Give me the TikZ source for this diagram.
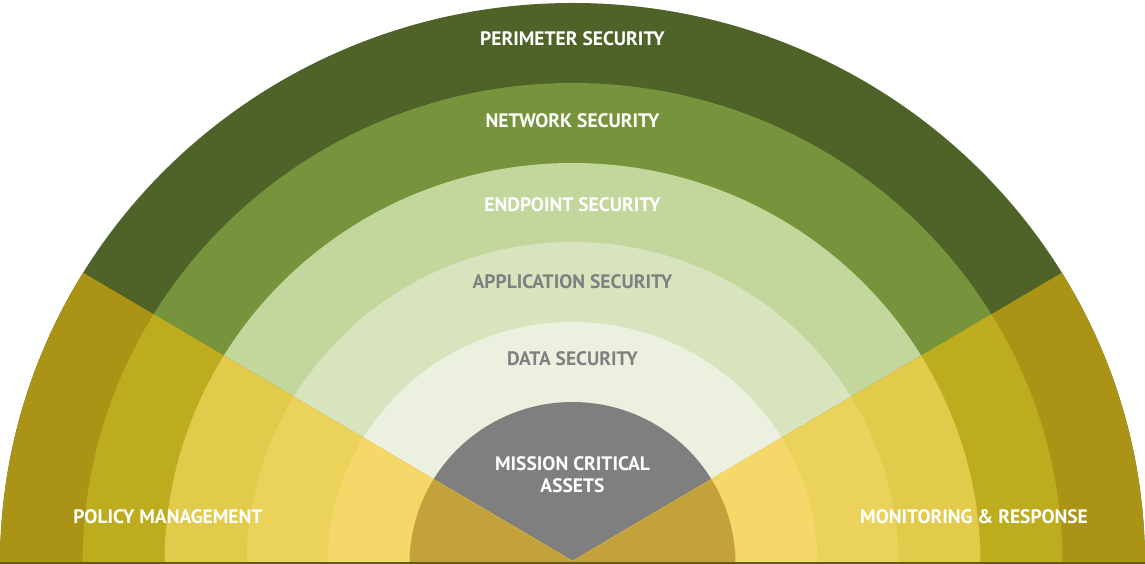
\documentclass[tikz,border=0pt]{standalone}
\usepackage{fontspec}
\setmainfont{PT Sans}
\usetikzlibrary{calc}

\definecolor{perimgreen}{HTML}{4F6228}
\definecolor{netgreen}{HTML}{77933C}
\definecolor{endgreen}{HTML}{C3D69B}
\definecolor{appgreen}{HTML}{D7E4BD}
\definecolor{datagreen}{HTML}{EBF1DE}
\definecolor{assetgray}{HTML}{7F7F7F}
\definecolor{perimgold}{HTML}{AB9315}
\definecolor{netgold}{HTML}{BEAC1F}
\definecolor{endgold}{HTML}{E2CA4B}
\definecolor{appgold}{HTML}{EBD25B}
\definecolor{datagold}{HTML}{F6D86A}
\definecolor{assetgold}{HTML}{C3A23B}
\definecolor{labelgray}{HTML}{808080}
\definecolor{baseolive}{HTML}{5E5E22}

\tikzstyle{ringlabel} = [font=\bfseries\fontsize{19.5}{22}\selectfont, text=white, inner sep=0pt, align=center]
\tikzstyle{palelabel} = [ringlabel, text=labelgray]

\begin{document}
\begin{tikzpicture}[x=1pt, y=1pt]
\useasboundingbox (0,0) rectangle (1145,564);
\coordinate (centre) at (572.5,0);
\coordinate (apex) at (572.5,3);

% green layers, outside in
\fill[perimgreen] (0,0) arc[start angle=180, end angle=0, x radius=572.5, y radius=561] -- cycle;
\fill[netgreen] (82.5,0) arc[start angle=180, end angle=0, x radius=490, y radius=481] -- cycle;
\fill[endgreen] (164.5,0) arc[start angle=180, end angle=0, x radius=408, y radius=401] -- cycle;
\fill[appgreen] (246.5,0) arc[start angle=180, end angle=0, x radius=326, y radius=322] -- cycle;
\fill[datagreen] (327.5,0) arc[start angle=180, end angle=0, x radius=245, y radius=242] -- cycle;
\fill[assetgray] (409.5,0) arc[start angle=180, end angle=0, x radius=163, y radius=162] -- cycle;

% the two side wedges
\begin{scope}
  \clip (apex) -- ++(149.5:700) -- (-40,-5) -- (1185,-5) -- ($(apex)+(30.5:700)$) -- cycle;
  \fill[perimgold] (0,0) arc[start angle=180, end angle=0, x radius=572.5, y radius=561] -- cycle;
  \fill[netgold] (82.5,0) arc[start angle=180, end angle=0, x radius=490, y radius=481] -- cycle;
  \fill[endgold] (164.5,0) arc[start angle=180, end angle=0, x radius=408, y radius=401] -- cycle;
  \fill[appgold] (246.5,0) arc[start angle=180, end angle=0, x radius=326, y radius=322] -- cycle;
  \fill[datagold] (327.5,0) arc[start angle=180, end angle=0, x radius=245, y radius=242] -- cycle;
  \fill[assetgold] (409.5,0) arc[start angle=180, end angle=0, x radius=163, y radius=162] -- cycle;
\end{scope}

\fill[baseolive] (0,0) rectangle (1145,1.5);

\node[ringlabel] (perimeter) at (572.5,525) {PERIMETER SECURITY};
\node[ringlabel] (network) at (572.5,443) {NETWORK SECURITY};
\node[ringlabel] (endpoint) at (572.5,359) {ENDPOINT SECURITY};
\node[palelabel] (application) at (572.5,282) {APPLICATION SECURITY};
\node[palelabel] (data) at (572.5,205) {DATA SECURITY};
\node[ringlabel] (assets) at (572.5,89) {MISSION CRITICAL\\ASSETS};
\node[ringlabel] (policy) at (168,47) {POLICY MANAGEMENT};
\node[ringlabel] (monitoring) at (974,47) {MONITORING \& RESPONSE};
\end{tikzpicture}
\end{document}
